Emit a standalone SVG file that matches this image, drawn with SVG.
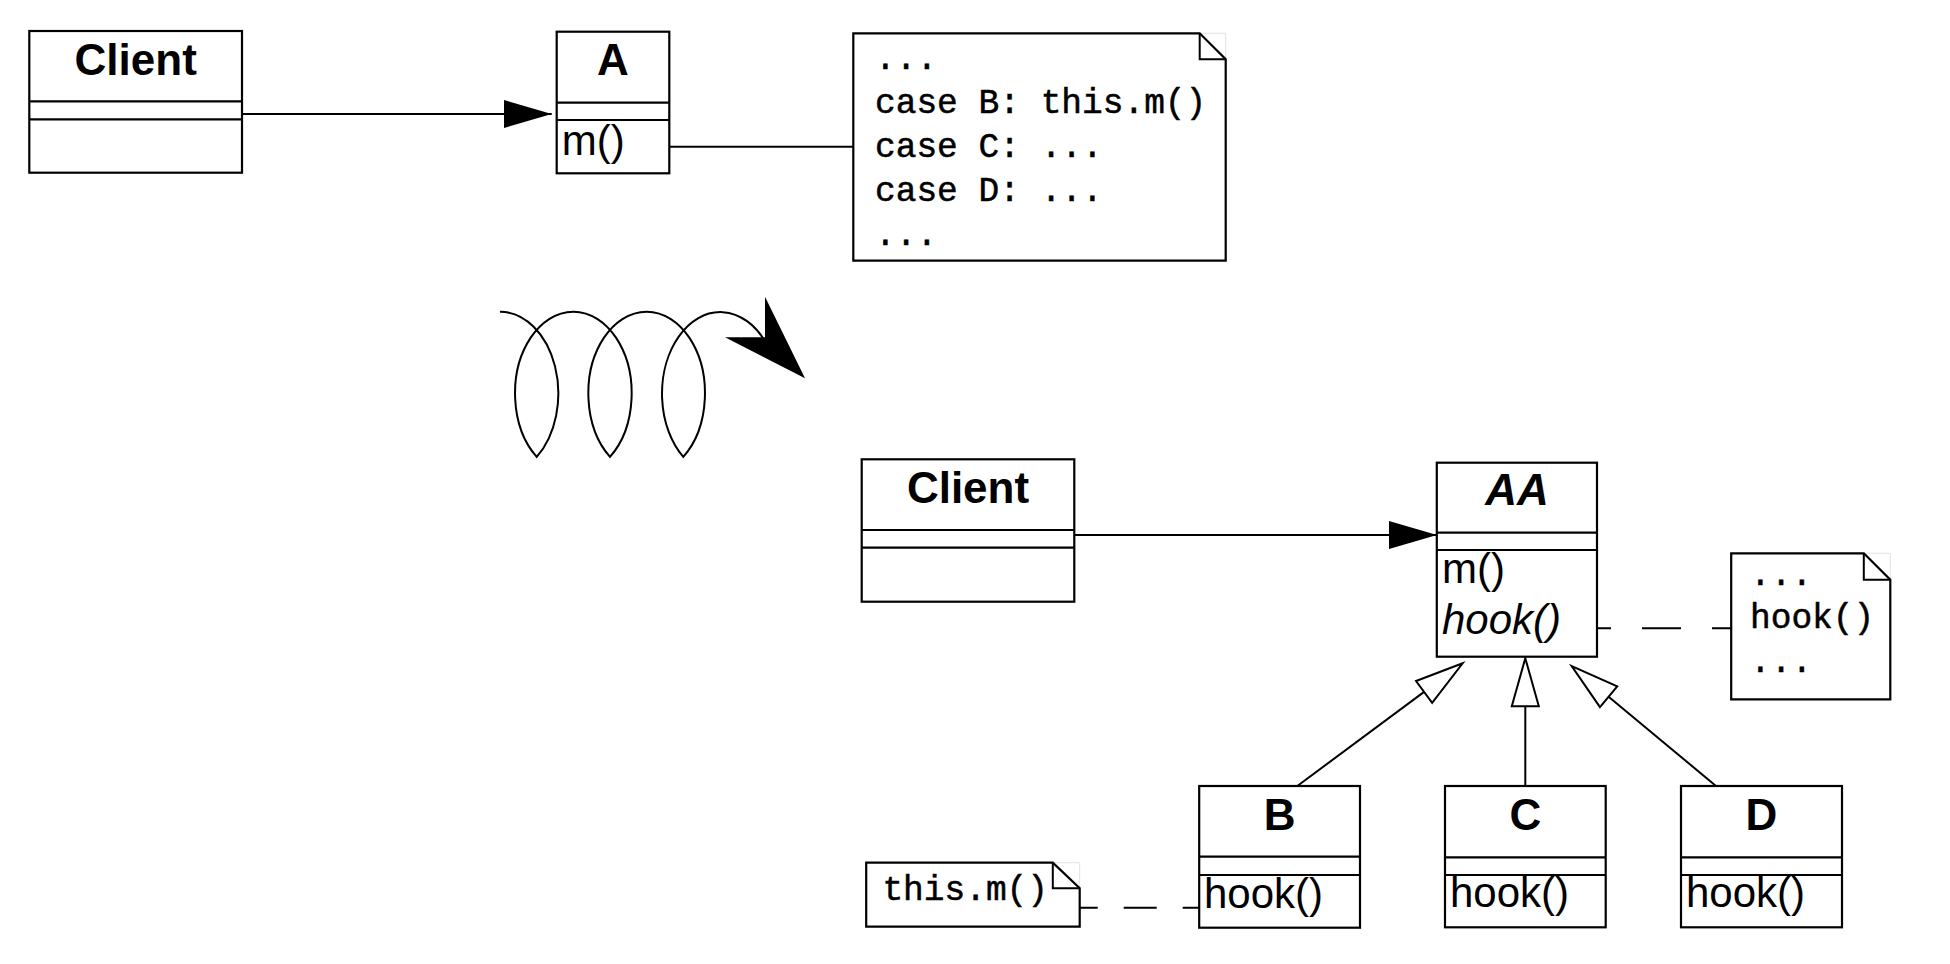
<svg xmlns="http://www.w3.org/2000/svg" width="1950" height="964" viewBox="0 0 1950 964">
<style>
.box{fill:#fff;stroke:#000;stroke-width:2.2}
.sep{stroke:#000;stroke-width:2.2}
.title{font-family:"Liberation Sans",Arial,sans-serif;font-weight:bold;font-size:44px;text-anchor:middle;fill:#000}
.op{font-family:"Liberation Sans",Arial,sans-serif;font-size:42px;fill:#000}
.it{font-style:italic}
.mono{font-family:"Liberation Mono","Courier New",monospace;font-size:34.5px;fill:#000;stroke:#000;stroke-width:0.5}
.conn{stroke:#000;stroke-width:2;fill:none}
.note{fill:#fff;stroke:#000;stroke-width:2.2}
.fold{fill:none;stroke:#000;stroke-width:2}
.faint{fill:none;stroke:#e2e2e2;stroke-width:1}
</style>
<defs>
<marker id="filled" viewBox="0 0 48 28" refX="48" refY="14" markerWidth="48" markerHeight="28" markerUnits="userSpaceOnUse" orient="auto">
<path d="M0,0 L48,14 L0,28 Z" fill="#000"/>
</marker>
<marker id="hollow" viewBox="-2 -2 52 31" refX="0" refY="13.5" markerWidth="52" markerHeight="31" markerUnits="userSpaceOnUse" orient="auto" overflow="visible">
<path d="M0,0 L48,13.5 L0,27 Z" fill="#fff" stroke="#000" stroke-width="2"/>
</marker>
</defs>
<rect width="1950" height="964" fill="#fff"/>

<g id="connectors">
<path class="conn" d="M239,114 H551.7" marker-end="url(#filled)"/>
<path class="conn" d="M667,146.7 H853.3"/>
<path class="conn" d="M1071,535 H1437" marker-end="url(#filled)"/>
<path class="conn" d="M1597,628.3 H1731.2" stroke-dasharray="39 31" stroke-dashoffset="25"/>
<path class="conn" d="M1079.7,907.7 H1199.2" stroke-dasharray="33 26" stroke-dashoffset="15"/>
<path class="conn" d="M1297.3,786 L1424.1,691.9" marker-end="url(#hollow)"/>
<path class="conn" d="M1525.3,786 V706.3" marker-end="url(#hollow)"/>
<path class="conn" d="M1716,786 L1608.6,696.7" marker-end="url(#hollow)"/>
</g>

<g id="curl">
<path class="conn" d="M500,311.7 A58.3,81.7 0 0 1 536.7,456.9 A58.3,81.7 0 1 1 610,456.9 A58.3,81.7 0 1 1 683.3,456.9 A58.3,81.7 0 1 1 765,341.3"/>
<path d="M765,296.7 L805,378.3 L725,337.3 L765,337.3 Z" fill="#000"/>
</g>

<g id="client1">
<rect class="box" x="29.3" y="31" width="212.7" height="141.7"/>
<line class="sep" x1="29.3" y1="101.3" x2="242" y2="101.3"/>
<line class="sep" x1="29.3" y1="119.3" x2="242" y2="119.3"/>
<text class="title" x="135.7" y="75">Client</text>
</g>

<g id="classA">
<rect class="box" x="556.7" y="31.7" width="112.6" height="141.6"/>
<line class="sep" x1="556.7" y1="102.7" x2="669.3" y2="102.7"/>
<line class="sep" x1="556.7" y1="120" x2="669.3" y2="120"/>
<text class="title" x="613" y="75">A</text>
<text class="op" x="561.7" y="155">m()</text>
</g>

<g id="note1">
<path class="faint" d="M1199.7,33.3 H1225.7 V59.3"/>
<path class="note" d="M853.3,33.3 H1199.7 L1225.7,59.3 V260.7 H853.3 Z"/>
<path class="fold" d="M1199.7,33.3 V59.3 H1225.7"/>
<text class="mono" x="875" y="68.5">...</text>
<text class="mono" x="875" y="112.5">case B: this.m()</text>
<text class="mono" x="875" y="156.5">case C: ...</text>
<text class="mono" x="875" y="200.5">case D: ...</text>
<text class="mono" x="875" y="244.5">...</text>
</g>

<g id="client2">
<rect class="box" x="861.7" y="459.3" width="212.6" height="142.4"/>
<line class="sep" x1="861.7" y1="530" x2="1074.3" y2="530"/>
<line class="sep" x1="861.7" y1="547.7" x2="1074.3" y2="547.7"/>
<text class="title" x="968" y="502.7">Client</text>
</g>

<g id="classAA">
<rect class="box" x="1436.8" y="462.7" width="160.2" height="194"/>
<line class="sep" x1="1436.8" y1="532.7" x2="1597" y2="532.7"/>
<line class="sep" x1="1436.8" y1="550" x2="1597" y2="550"/>
<text class="title it" x="1517" y="505">AA</text>
<text class="op" x="1442" y="583.3">m()</text>
<text class="op it" x="1442" y="634">hook()</text>
</g>

<g id="note2">
<path class="faint" d="M1863.8,553.3 H1890.3 V579.8"/>
<path class="note" d="M1731.2,553.3 H1863.8 L1890.3,579.8 V699.3 H1731.2 Z"/>
<path class="fold" d="M1863.8,553.3 V579.8 H1890.3"/>
<text class="mono" x="1750" y="584.5">...</text>
<text class="mono" x="1750" y="628">hook()</text>
<text class="mono" x="1750" y="671.5">...</text>
</g>

<g id="classB">
<rect class="box" x="1199.2" y="786" width="160.8" height="141.7"/>
<line class="sep" x1="1199.2" y1="856.7" x2="1360" y2="856.7"/>
<line class="sep" x1="1199.2" y1="875" x2="1360" y2="875"/>
<text class="title" x="1279.6" y="830">B</text>
<text class="op" x="1204" y="908">hook()</text>
</g>

<g id="classC">
<rect class="box" x="1445" y="786" width="160.7" height="141.3"/>
<line class="sep" x1="1445" y1="857.3" x2="1605.7" y2="857.3"/>
<line class="sep" x1="1445" y1="875" x2="1605.7" y2="875"/>
<text class="title" x="1525.3" y="830">C</text>
<text class="op" x="1450" y="907">hook()</text>
</g>

<g id="classD">
<rect class="box" x="1681" y="786" width="161" height="141.3"/>
<line class="sep" x1="1681" y1="857.3" x2="1842" y2="857.3"/>
<line class="sep" x1="1681" y1="875" x2="1842" y2="875"/>
<text class="title" x="1761.5" y="830">D</text>
<text class="op" x="1686" y="907">hook()</text>
</g>

<g id="note3">
<path class="faint" d="M1052.8,862.7 H1079.7 V888.3"/>
<path class="note" d="M866.2,862.7 H1052.8 L1079.7,888.3 V926.7 H866.2 Z"/>
<path class="fold" d="M1052.8,862.7 V888.3 H1079.7"/>
<text class="mono" x="882.4" y="900">this.m()</text>
</g>
</svg>
